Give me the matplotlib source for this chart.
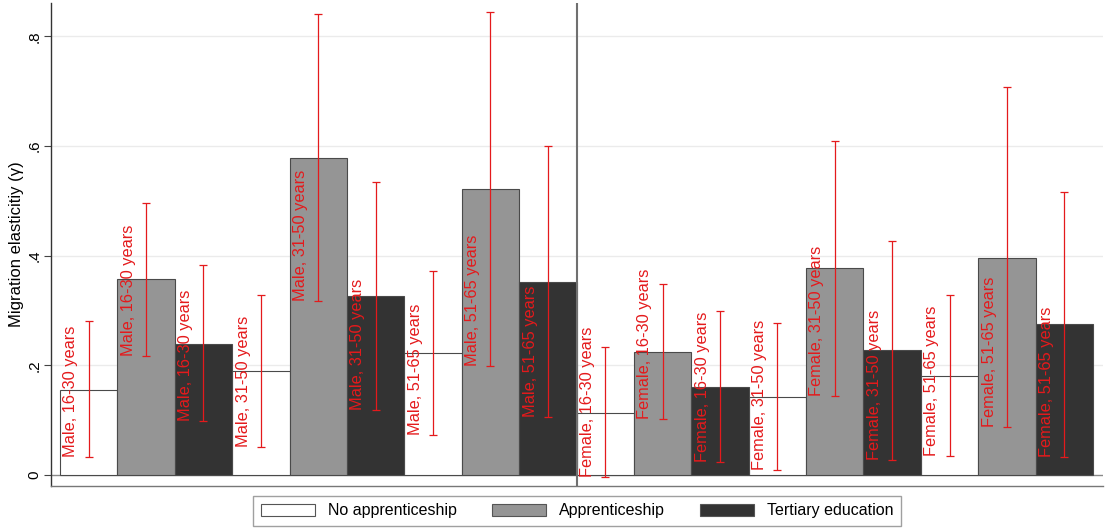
import matplotlib
matplotlib.use("Agg")
import matplotlib.pyplot as plt
from matplotlib.patches import Patch
import numpy as np

plt.rcParams['font.family'] = ['Liberation Sans', 'DejaVu Sans']

# groups shown on the x axis (sex x age), three education bars per group
groups = ["Male, 16-30 years", "Male, 31-50 years", "Male, 51-65 years",
          "Female, 16-30 years", "Female, 31-50 years", "Female, 51-65 years"]
education = ["No apprenticeship", "Apprenticeship", "Tertiary education"]

# point estimates
no_app = [0.156, 0.190, 0.223, 0.114, 0.142, 0.181]
app = [0.357, 0.578, 0.522, 0.225, 0.377, 0.395]
tert = [0.239, 0.327, 0.352, 0.161, 0.228, 0.275]

# confidence intervals
no_app_lo = [0.033, 0.052, 0.073, -0.004, 0.009, 0.035]
no_app_hi = [0.281, 0.328, 0.373, 0.234, 0.277, 0.328]
app_lo = [0.217, 0.318, 0.199, 0.103, 0.145, 0.087]
app_hi = [0.496, 0.841, 0.845, 0.348, 0.609, 0.707]
tert_lo = [0.098, 0.118, 0.106, 0.023, 0.027, 0.033]
tert_hi = [0.384, 0.535, 0.600, 0.300, 0.426, 0.517]

yticks = [0, 0.2, 0.4, 0.6, 0.8]
yticklabels = ["0", ".2", ".4", ".6", ".8"]

fill_colors = ["white", "#959595", "#333333"]
red = "#e41a1c"

values = [no_app, app, tert]
lows = [no_app_lo, app_lo, tert_lo]
highs = [no_app_hi, app_hi, tert_hi]

fig = plt.figure(figsize=(11.07, 5.29), dpi=100)
ax = fig.add_axes([51 / 1107, 43 / 529, 1052 / 1107, 483 / 529])

# light horizontal grid
for t in yticks[1:]:
    ax.axhline(t, color="#ebebeb", lw=1, zorder=0)
ax.axhline(0, color="#8a8a8a", lw=1, zorder=1)

ngroups = len(groups)
for e in range(3):
    x = np.arange(ngroups) * 3 + e
    ax.bar(x, values[e], width=1.0, color=fill_colors[e], edgecolor="#4a4a4a",
           linewidth=0.8, zorder=2)

for e in range(3):
    x = np.arange(ngroups) * 3 + e
    v = np.array(values[e])
    lo = np.array(lows[e])
    hi = np.array(highs[e])
    ax.errorbar(x, v, yerr=[v - lo, hi - v], fmt="none", ecolor=red,
                elinewidth=0.9, capsize=2.8, capthick=0.9, zorder=3)
    for i in range(ngroups):
        ax.text(x[i] - 0.31, lo[i], groups[i], rotation=90, ha="center",
                va="bottom", color=red, fontsize=11.8, zorder=4)

# separator between male and female
ax.axvline(8.5, color="#707070", lw=1.5, zorder=3)

ax.set_xlim(-0.657, 17.674)
ax.set_ylim(-0.02, 0.861)
ax.set_xticks([])
ax.set_yticks(yticks)
ax.set_yticklabels(yticklabels, fontsize=11)
plt.setp(ax.get_yticklabels(), rotation=90, va="center")
ax.tick_params(axis="y", length=5, width=0.8, color="#444444", pad=2)
ax.set_ylabel("Migration elasticitiy (γ)", fontsize=12, labelpad=2)

for s in ["top", "right"]:
    ax.spines[s].set_visible(False)
ax.spines["left"].set_color("#333333")
ax.spines["left"].set_linewidth(1.0)
ax.spines["bottom"].set_color("#777777")
ax.spines["bottom"].set_linewidth(1.0)

handles = [Patch(facecolor=fill_colors[e], edgecolor="#555555", linewidth=0.8)
           for e in range(3)]
leg = fig.legend(handles, education, loc="center", bbox_to_anchor=(577 / 1107, 1 - 511 / 529),
                 ncol=3, fontsize=11.5, frameon=True, fancybox=False,
                 handlelength=3.4, handleheight=0.8, columnspacing=2.2,
                 handletextpad=0.8, borderpad=0.45)
leg.get_frame().set_edgecolor("#888888")
leg.get_frame().set_linewidth(1.0)

fig.savefig("out.png", dpi=100)
